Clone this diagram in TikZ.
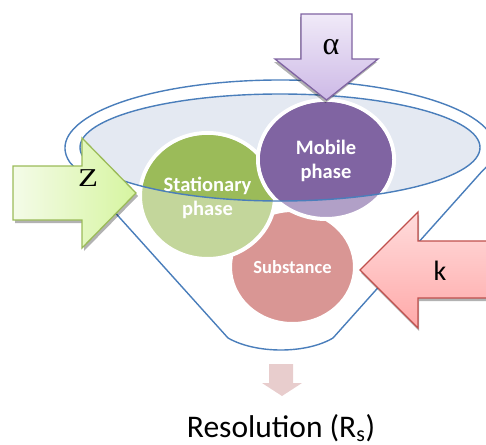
\documentclass[tikz,border=0pt]{standalone}
\usepackage{fontspec}
\setmainfont{Carlito}
\newfontfamily\serifgreek{Liberation Serif}
\usetikzlibrary{shapes.geometric}
\definecolor{funnelblue}{HTML}{4A7EBB}
\definecolor{rimfill}{HTML}{E4E9F2}
\definecolor{statdark}{HTML}{9BBB59}
\definecolor{statlight}{HTML}{C3D69B}
\definecolor{mobdark}{HTML}{8064A2}
\definecolor{moblight}{HTML}{B1A0C7}
\definecolor{substcol}{HTML}{D99694}
\definecolor{zborder}{HTML}{9BBB59}
\definecolor{zleft}{HTML}{F4FBE8}
\definecolor{zright}{HTML}{D6F5A0}
\definecolor{aborder}{HTML}{8064A2}
\definecolor{atop}{HTML}{F0EAF8}
\definecolor{abottom}{HTML}{CDB9E6}
\definecolor{kborder}{HTML}{C0504D}
\definecolor{ktop}{HTML}{FFDCDC}
\definecolor{kbottom}{HTML}{FFA9A9}
\definecolor{downarrow}{HTML}{E8CDCD}
\begin{document}
\begin{tikzpicture}[x=1pt,y=-1pt,
  rim/.style={draw=funnelblue, line width=1.4pt},
  blob/.style={ellipse, draw=white, line width=4pt, inner sep=0pt},
  blobtext/.style={text=white, font=\bfseries\fontsize{20.5}{24}\selectfont, align=center, inner sep=0pt},
  arrowshadow/.style={fill=black, opacity=0.3},
  arrowline/.style={line width=1.3pt, line join=miter},
  zshape/.style={insert path={(13,166) -- (82,166) -- (82,138) -- (136,193) -- (82,248) -- (82,220) -- (13,220) -- cycle}},
  ashape/.style={insert path={(301,14) -- (352,14) -- (352,59) -- (378,59) -- (326.5,100) -- (275,59) -- (301,59) -- cycle}},
  kshape/.style={insert path={(495,241) -- (418,241) -- (418,212) -- (360,270) -- (418,328) -- (418,298) -- (495,298) -- cycle}},
  ]
\useasboundingbox (0,0) rectangle (486,444);
\clip (0,0) rectangle (486,444);
% funnel rim fill
\fill[rimfill] (280,147.5) ellipse [x radius=200, y radius=53.5];
% funnel outline
\draw[rim, line join=round] (280,148) ++(168:215 and 68)
  arc[start angle=168, end angle=380, x radius=215, y radius=68]
  -- (333,338) .. controls (306,354) and (256,354) .. (228,338) -- cycle;
% substance
\node[blob, fill=substcol, minimum width=125pt, minimum height=114pt] (subst) at (292.5,267) {};
% stationary phase
\node[blob, fill=statlight, minimum width=135pt, minimum height=126pt] (stat) at (207.5,196) {};
\begin{scope}
  \clip (280,147.5) ellipse [x radius=200, y radius=53.5];
  \fill[statdark] (stat.center) ellipse [x radius=65.5, y radius=61];
\end{scope}
% mobile phase
\node[blob, fill=moblight, minimum width=136pt, minimum height=119pt] (mob) at (326,159.5) {};
\begin{scope}
  \clip (280,147.5) ellipse [x radius=200, y radius=53.5];
  \fill[mobdark] (mob.center) ellipse [x radius=66, y radius=57.5];
\end{scope}
% rim line
\draw[rim] (280,147.5) ellipse [x radius=200, y radius=53.5];
% texts
\node[blobtext] (mobtxt) at (326,161) {Mobile\\phase};
\node[blobtext] (stattxt) at (207.5,198) {Stationary\\phase};
\node[blobtext, font=\bfseries\fontsize{18.5}{22}\selectfont, anchor=base] (substtxt) at (292.5,273) {Substance};
% arrows: shadows
\fill[arrowshadow, shift={(2,3)}, zshape];
\fill[arrowshadow, shift={(-1,3)}, ashape];
\fill[arrowshadow, shift={(1,3)}, kshape];
% Z arrow
\draw[arrowline, draw=zborder, left color=zleft, right color=zright, zshape];
\node[font=\serifgreek\fontsize{25.7}{28}\selectfont, inner sep=0pt, xscale=1.27] (zlab) at (88,178.5) {Z};
% alpha arrow
\draw[arrowline, draw=aborder, top color=atop, bottom color=abottom, ashape];
\node[font=\serifgreek\fontsize{32}{34}\selectfont, inner sep=0pt] (alab) at (331,47.5) {α};
% k arrow
\draw[arrowline, draw=kborder, top color=ktop, bottom color=kbottom, kshape];
\node[font=\fontsize{28}{30}\selectfont, inner sep=0pt] (klab) at (440,271) {k};
% down arrow to resolution
\fill[downarrow] (269,364) -- (293,364) -- (293,383) -- (302,383) -- (282,396) -- (262,383) -- (269,383) -- cycle;
\node[font=\fontsize{31.5}{36}\selectfont, anchor=base, inner sep=0pt] (res) at (281,437.5) {Resolution (R\textsubscript{s})};
\end{tikzpicture}
\end{document}
